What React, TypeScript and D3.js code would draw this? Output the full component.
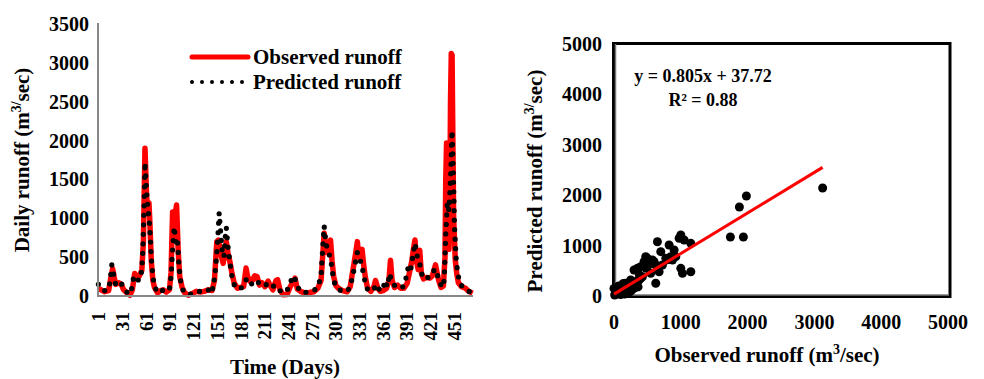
import React from 'react';
import * as d3 from 'd3';

// ---------- Data ----------
// Time series vertices: [day, runoff m3/sec]
const observedRunoff: [number, number][] = [
  [1,100],[4,80],[9,55],[14,70],[17,250],[19,350],[21,240],[23,150],[27,170],[30,150],[33,80],[37,40],[41,10],[44,80],[47,290],[50,220],[53,260],[56,330],[58,700],[60,1900],[62,1300],[63,1150],[65,1200],[66,1000],[68,450],[70,200],[72,110],[76,40],[80,70],[83,80],[87,50],[91,80],[93,300],[95,1080],[97,750],[99,1100],[100,1170],[102,600],[104,250],[107,110],[110,45],[115,10],[120,30],[125,60],[130,50],[135,60],[140,80],[145,70],[148,200],[151,700],[153,720],[155,620],[157,500],[159,420],[161,550],[163,700],[165,560],[168,420],[170,300],[173,170],[177,100],[181,110],[185,120],[188,360],[190,250],[193,190],[196,200],[199,260],[202,250],[205,140],[208,170],[212,120],[216,190],[219,130],[222,80],[226,200],[228,210],[231,80],[235,15],[240,20],[244,120],[247,170],[250,230],[253,90],[257,60],[262,40],[268,45],[274,55],[279,100],[283,200],[285,500],[287,810],[289,620],[291,560],[293,650],[295,720],[297,450],[299,250],[302,130],[305,100],[310,70],[316,55],[320,120],[322,250],[325,430],[327,560],[329,700],[331,500],[333,520],[335,600],[337,400],[339,250],[342,100],[346,60],[350,120],[352,200],[355,100],[358,60],[362,70],[366,100],[369,200],[371,460],[373,200],[376,110],[380,140],[384,100],[388,100],[392,160],[395,300],[398,450],[400,600],[402,720],[404,450],[406,340],[408,590],[410,300],[413,220],[417,240],[421,230],[424,260],[426,330],[428,400],[430,300],[432,200],[435,110],[438,130],[440,500],[441,1500],[442,1970],[443,1900],[444,1200],[445,600],[446,900],[447,2500],[448,3120],[449,3100],[450,2000],[451,1000],[453,470],[455,280],[457,170],[461,120],[466,100],[470,60],[474,40],[475,35]
];

const predictedRunoff: [number, number][] = [
  [1,150],[4,90],[9,70],[14,90],[16,200],[18,400],[20,300],[22,170],[25,130],[28,170],[31,150],[34,90],[38,40],[42,30],[44,150],[46,260],[49,230],[52,200],[55,250],[57,500],[59,1200],[60,1720],[62,1350],[64,1100],[66,900],[68,500],[70,250],[72,130],[75,60],[79,40],[83,80],[87,60],[91,90],[93,250],[95,600],[97,890],[99,700],[101,750],[103,400],[105,200],[108,80],[112,30],[117,20],[122,50],[128,60],[134,50],[140,70],[143,140],[146,90],[149,300],[152,700],[154,1070],[156,800],[158,550],[160,500],[162,800],[163,880],[165,650],[168,400],[171,200],[174,120],[178,90],[183,110],[186,150],[189,230],[192,180],[196,150],[200,200],[204,170],[208,130],[212,150],[216,140],[220,100],[224,140],[228,110],[232,60],[236,40],[240,70],[243,150],[246,220],[249,260],[252,150],[256,70],[261,40],[268,60],[274,70],[279,120],[283,250],[285,600],[287,900],[289,700],[291,600],[293,550],[295,480],[297,350],[299,200],[302,120],[306,80],[311,60],[316,60],[320,120],[323,250],[326,400],[329,560],[331,500],[333,450],[335,380],[338,220],[341,100],[345,60],[350,90],[354,150],[357,80],[361,70],[364,200],[367,120],[370,290],[372,200],[375,150],[379,110],[383,100],[387,120],[390,200],[393,350],[396,300],[399,500],[402,680],[404,560],[406,450],[408,420],[410,300],[413,220],[417,230],[421,250],[424,280],[427,350],[430,280],[433,200],[436,110],[439,200],[441,800],[443,1200],[445,1100],[447,1500],[449,2130],[451,1400],[452,900],[454,500],[456,300],[459,160],[463,110],[468,80],[472,50],[475,40]
];

const dayTicks = d3.range(1, 452, 30);
const runoffTicks = d3.range(0, 3501, 500);
const scatterTicks = d3.range(0, 5001, 1000);

// Scatter: observed vs predicted
const scatterObserved = [
  10,20,30,40,50,60,70,80,90,100,110,120,130,140,150,160,170,180,200,210,220,240,260,280,300,320,340,360,380,400,
  0,25,125,250,325,375,300,350,400,450,475,500,575,650,700,625,675,550,625,425,250,175,100,
  825,900,975,1000,1050,925,1150,1000,1025,1150,875,775,725,600,520,480,800,850,
  3123,1982,1877,1742,1937
];
const scatterPredicted = [
  20,60,100,40,150,90,200,60,130,30,100,160,70,250,120,40,180,90,140,220,60,170,110,200,150,250,300,180,420,350,
  150,85,120,120,185,317,516,549,582,681,780,747,714,1077,880,615,482,450,252,383,317,252,198,
  1012,913,1145,1210,1111,780,1045,549,450,482,714,747,615,680,620,550,720,780,
  2143,1984,1766,1171,1171
];

const slope = 0.805;
const intercept = 37.72;
const rSquared = 0.88;

const FONT = "'Liberation Serif', 'Times New Roman', Times, serif";

export default function App() {
  // Left chart scales
  const xL = d3.scaleLinear().domain([0.5, 475.5]).range([98, 473]);
  const yL = d3.scaleLinear().domain([0, 3500]).range([296, 24]);
  const lineL = d3.line<[number, number]>().x(d => xL(d[0])).y(d => yL(d[1]));

  // Right chart scales
  const xR = d3.scaleLinear().domain([0, 5000]).range([614, 948]);
  const yR = d3.scaleLinear().domain([0, 5000]).range([296, 44]);
  const maxObs = d3.max(scatterObserved) as number;

  return (
    <svg width={984} height={379} style={{ position: 'absolute', left: 0, top: 0, background: '#fff' }}
      fontFamily={FONT} fontWeight="bold">
      <rect x={0} y={0} width={984} height={379} fill="#fff" />

      {/* ---------- Left chart ---------- */}
      <path d={lineL(observedRunoff) || ''} fill="none" stroke="#ff0000" strokeWidth={5.5} strokeLinejoin="round" />
      <path d={lineL(predictedRunoff) || ''} fill="none" stroke="#000" strokeWidth={5.2}
        strokeDasharray="0 9.5" strokeLinecap="round" />
      <line x1={98} y1={23} x2={98} y2={297} stroke="#878787" strokeWidth={2} />
      <line x1={97} y1={296} x2={473} y2={296} stroke="#878787" strokeWidth={2} />
      {runoffTicks.map(t => (
        <text key={'yl' + t} x={89} y={yL(t) + 7} textAnchor="end" fontSize={20}>{t}</text>
      ))}
      {dayTicks.map(t => (
        <text key={'xl' + t} transform={`translate(${xL(t) + 7},312) rotate(-90)`} textAnchor="end" fontSize={19}>{t}</text>
      ))}
      <text x={285} y={374} textAnchor="middle" fontSize={21}>Time (Days)</text>
      <text transform="translate(29,160) rotate(-90)" textAnchor="middle" fontSize={21}>
        Daily runoff (m<tspan fontSize={14} dy={-8}>3/</tspan><tspan dy={8}>sec)</tspan>
      </text>

      {/* Legend */}
      <line x1={192} y1={57} x2={248} y2={57} stroke="#ff0000" strokeWidth={5} strokeLinecap="round" />
      <text x={253} y={64} fontSize={21}>Observed runoff</text>
      <line x1={192} y1={82} x2={245} y2={82} stroke="#000" strokeWidth={4} strokeDasharray="0 10" strokeLinecap="round" />
      <text x={253} y={89} fontSize={21}>Predicted runoff</text>

      {/* ---------- Right chart ---------- */}
      <rect x={613.5} y={43.5} width={336.5} height={253} fill="none" stroke="#000" strokeWidth={3} />
      <line x1={615.5} y1={44} x2={615.5} y2={295} stroke="#777" strokeWidth={1.5} />
      <line x1={615} y1={295} x2={949} y2={295} stroke="#777" strokeWidth={1.5} />
      {scatterObserved.map((o, i) => (
        <circle key={'p' + i} cx={xR(o)} cy={yR(scatterPredicted[i])} r={4.5} fill="#000" />
      ))}
      <line x1={xR(0)} y1={yR(intercept)} x2={xR(maxObs)} y2={yR(slope * maxObs + intercept)}
        stroke="#ff0000" strokeWidth={3} />
      {scatterTicks.map(t => (
        <text key={'yr' + t} x={602} y={yR(t) + 7} textAnchor="end" fontSize={20}>{t}</text>
      ))}
      {scatterTicks.map(t => (
        <text key={'xr' + t} x={xR(t)} y={329} textAnchor="middle" fontSize={20}>{t}</text>
      ))}
      <text x={703} y={82} textAnchor="middle" fontSize={18}>{`y = ${slope}x + ${intercept}`}</text>
      <text x={703} y={106} textAnchor="middle" fontSize={18}>{`R² = ${rSquared}`}</text>
      <text x={767} y={362} textAnchor="middle" fontSize={21}>
        Observed runoff (m<tspan fontSize={14} dy={-8}>3</tspan><tspan dy={8}>/sec)</tspan>
      </text>
      <text transform="translate(542,181) rotate(-90)" textAnchor="middle" fontSize={21}>
        Predicted runoff (m<tspan fontSize={14} dy={-8}>3/</tspan><tspan dy={8}>sec)</tspan>
      </text>
    </svg>
  );
}
